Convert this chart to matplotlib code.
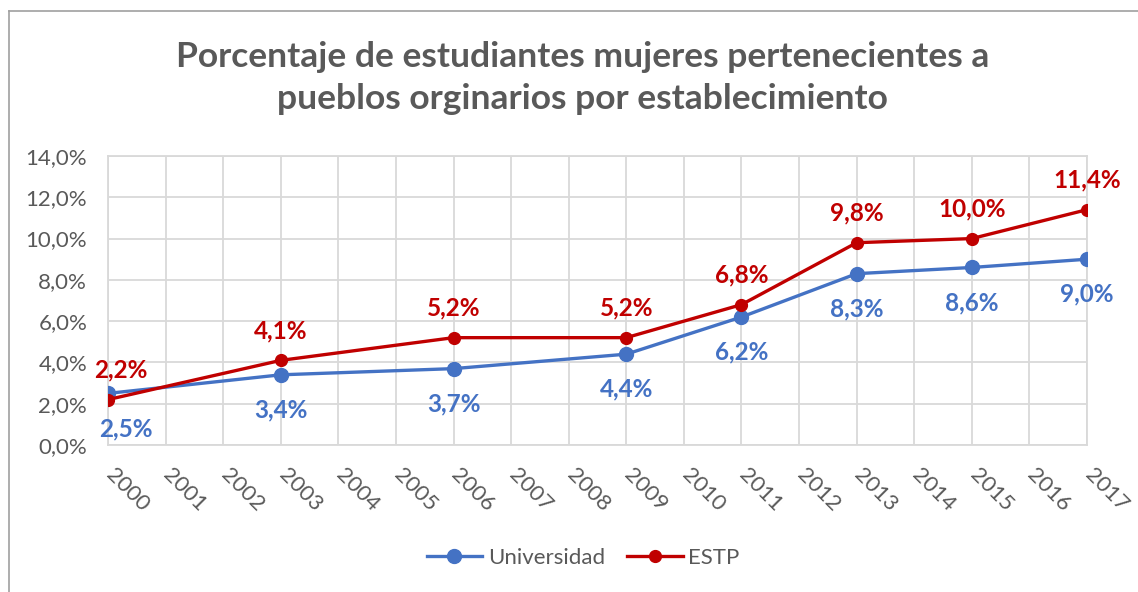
import matplotlib.pyplot as plt
import matplotlib.transforms as mtransforms
from matplotlib.lines import Line2D

# data
years = [2000, 2003, 2006, 2009, 2011, 2013, 2015, 2017]
universidad = [2.5, 3.4, 3.7, 4.4, 6.2, 8.3, 8.6, 9.0]
estp = [2.2, 4.1, 5.2, 5.2, 6.8, 9.8, 10.0, 11.4]
year_ticks = list(range(2000, 2018))
y_ticks = [0, 2, 4, 6, 8, 10, 12, 14]

title = "Porcentaje de estudiantes mujeres pertenecientes a\npueblos orginarios por establecimiento"

blue = "#4472c4"
red = "#c00000"
grey = "#595959"
grid = "#d9d9d9"

plt.rcParams['font.family'] = ['Lato', 'DejaVu Sans']

fig = plt.figure(figsize=(11.38, 5.92), dpi=100)
ax = fig.add_axes([108 / 1138, 1 - 445 / 592, (1087 - 108) / 1138, (445 - 156) / 592])

ax.plot(years, universidad, color=blue, lw=2.4, marker='o', ms=10, label='Universidad', zorder=3)
ax.plot(years, estp, color=red, lw=2.4, marker='o', ms=8.5, label='ESTP', zorder=4)

def fmt(v):
    return "{:.1f}%".format(v).replace(".", ",")

# excel pushes the first labels inside the plot area
for i, (x, v) in enumerate(zip(years, universidad)):
    dx = 13 if i == 0 else 0
    ax.annotate(fmt(v), (x, v), xytext=(dx, -17), textcoords='offset points',
                ha='center', va='top', color=blue, fontsize=17.5, fontweight='bold')
for i, (x, v) in enumerate(zip(years, estp)):
    dx = 9 if i == 0 else 0
    ax.annotate(fmt(v), (x, v), xytext=(dx, 13), textcoords='offset points',
                ha='center', va='bottom', color=red, fontsize=17.5, fontweight='bold')

ax.set_xlim(2000, 2017)
ax.set_ylim(0, 14)
ax.set_xticks(year_ticks)
ax.set_xticklabels([str(y) for y in year_ticks], rotation=-45, ha='left', va='top')
ax.set_yticks(y_ticks)
ax.set_yticklabels([fmt(v) for v in y_ticks])
ax.tick_params(axis='both', length=0, labelsize=16, labelcolor=grey)
ax.tick_params(axis='x', pad=14)
ax.tick_params(axis='y', pad=15)
shift = mtransforms.ScaledTranslation(-6 / 100, 0, fig.dpi_scale_trans)
for lab in ax.get_xticklabels():
    lab.set_transform(lab.get_transform() + shift)
ax.grid(True, color=grid, lw=1.3)
ax.set_axisbelow(True)
for s in ax.spines.values():
    s.set_color(grid)
    s.set_linewidth(1.3)

fig.text(0.512, 1 - 78 / 592, title, ha='center', va='center', fontsize=25.5, fontweight='bold',
         color=grey, linespacing=1.38)

fig.legend(loc='center', bbox_to_anchor=(583 / 1138, 1 - 558 / 592), ncol=2, frameon=False,
           fontsize=16, labelcolor=grey, handlelength=2.5, handletextpad=0.25, columnspacing=1.0)

# chart frame (top and left edges visible)
fig.add_artist(Line2D([9 / 1138, 9 / 1138], [0, 1 - 11 / 592], color="#a0a0a0", lw=1.2))
fig.add_artist(Line2D([9 / 1138, 1], [1 - 11 / 592, 1 - 11 / 592], color="#a0a0a0", lw=1.2))

fig.savefig("out.png", dpi=100)
